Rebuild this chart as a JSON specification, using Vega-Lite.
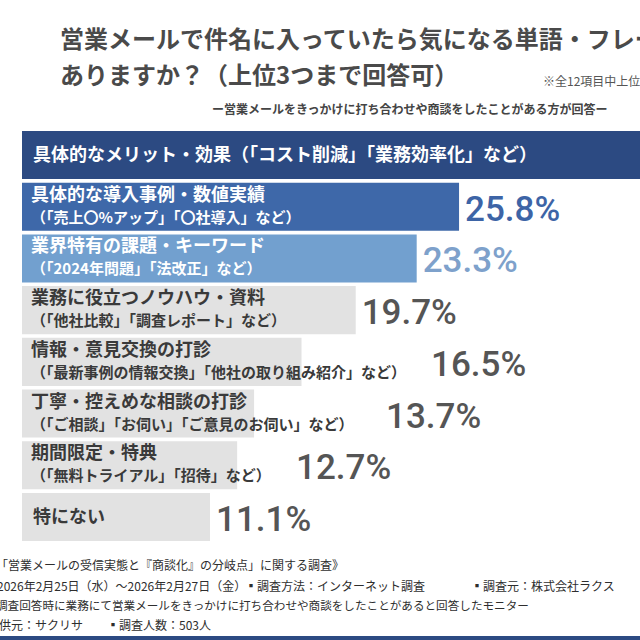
{
  "$schema": "https://vega.github.io/schema/vega-lite/v6.json",
  "width": 640,
  "height": 640,
  "autosize": {"type": "none"},
  "padding": 0,
  "background": "white",
  "config": {"view": {"stroke": null}, "font": "Noto Sans CJK JP"},
  "datasets": {
    "answers": [
      {"rank": 1, "item": "具体的なメリット・効果（「コスト削減」「業務効率化」など）", "sub": "", "value": 40.8},
      {"rank": 2, "item": "具体的な導入事例・数値実績", "sub": "（「売上〇%アップ」「〇社導入」など）", "value": 25.8},
      {"rank": 3, "item": "業界特有の課題・キーワード", "sub": "（「2024年問題」「法改正」など）", "value": 23.3},
      {"rank": 4, "item": "業務に役立つノウハウ・資料", "sub": "（「他社比較」「調査レポート」など）", "value": 19.7},
      {"rank": 5, "item": "情報・意見交換の打診", "sub": "（「最新事例の情報交換」「他社の取り組み紹介」など）", "value": 16.5},
      {"rank": 6, "item": "丁寧・控えめな相談の打診", "sub": "（「ご相談」「お伺い」「ご意見のお伺い」など）", "value": 13.7},
      {"rank": 7, "item": "期間限定・特典", "sub": "（「無料トライアル」「招待」など）", "value": 12.7},
      {"rank": 8, "item": "特にない", "sub": "", "value": 11.1}
    ]
  },
  "data": {"name": "answers"},
  "encoding": {
    "y": {
      "field": "rank",
      "type": "ordinal",
      "axis": null,
      "scale": {"type": "band", "domain": [1, 2, 3, 4, 5, 6, 7, 8], "range": [131, 541], "paddingInner": 0.07, "paddingOuter": 0}
    }
  },
  "layer": [
    {
      "mark": {"type": "bar", "clip": true},
      "encoding": {
        "x": {"field": "value", "type": "quantitative", "axis": null,
              "scale": {"domain": [0, 36.5], "range": [22, 640.3], "nice": false, "zero": true}},
        "color": {
          "field": "rank", "type": "ordinal", "legend": null,
          "scale": {"domain": [1, 2, 3, 4, 5, 6, 7, 8],
                    "range": ["#2c4a82", "#3e68a9", "#72a0cf", "#e2e2e2", "#e2e2e2", "#e2e2e2", "#e2e2e2", "#e2e2e2"]}
        }
      }
    },
    {
      "transform": [{"filter": "datum.sub != ''"}],
      "mark": {"type": "text", "align": "left", "baseline": "middle", "dx": 9, "dy": -11, "fontSize": 18, "fontWeight": "bold"},
      "encoding": {
        "x": {"datum": 0, "type": "quantitative"},
        "text": {"field": "item"},
        "color": {"condition": {"test": "datum.rank <= 3", "value": "#ffffff"}, "value": "#3a3a3a"}
      }
    },
    {
      "transform": [{"filter": "datum.sub == ''"}],
      "mark": {"type": "text", "align": "left", "baseline": "middle", "dx": 11, "dy": 1, "fontSize": 18, "fontWeight": "bold"},
      "encoding": {
        "x": {"datum": 0, "type": "quantitative"},
        "text": {"field": "item"},
        "color": {"condition": {"test": "datum.rank <= 3", "value": "#ffffff"}, "value": "#3a3a3a"}
      }
    },
    {
      "transform": [{"filter": "datum.sub != ''"}],
      "mark": {"type": "text", "align": "left", "baseline": "middle", "dx": 9, "dy": 11, "fontSize": 15, "fontWeight": "bold"},
      "encoding": {
        "x": {"datum": 0, "type": "quantitative"},
        "text": {"field": "sub"},
        "color": {"condition": {"test": "datum.rank <= 3", "value": "#ffffff"}, "value": "#3a3a3a"}
      }
    },
    {
      "transform": [
        {"calculate": "max(datum.value, 0.77 + 0.8855 * length(datum.sub))", "as": "labelAt"},
        {"calculate": "format(datum.value, '.1f') + '%'", "as": "label"}
      ],
      "mark": {"type": "text", "align": "left", "baseline": "alphabetic", "dx": 6, "dy": 14, "fontSize": 35, "fontWeight": 500, "font": "Roboto"},
      "encoding": {
        "x": {"field": "labelAt", "type": "quantitative"},
        "text": {"field": "label"},
        "color": {
          "condition": [
            {"test": "datum.rank == 2", "value": "#3d64a6"},
            {"test": "datum.rank == 3", "value": "#7ea1cb"}
          ],
          "value": "#555555"
        }
      }
    },
    {
      "data": {"values": [{"t": "営業メールで件名に入っていたら気になる単語・フレーズは"}]},
      "mark": {"type": "text", "align": "left", "baseline": "middle", "fontSize": 24, "fontWeight": "bold", "color": "#4a4a4a"},
      "encoding": {"text": {"field": "t"}, "x": {"value": 60}, "y": {"value": 41}}
    },
    {
      "data": {"values": [{"t": "ありますか？（上位3つまで回答可）"}]},
      "mark": {"type": "text", "align": "left", "baseline": "middle", "fontSize": 24, "fontWeight": "bold", "color": "#4a4a4a"},
      "encoding": {"text": {"field": "t"}, "x": {"value": 60}, "y": {"value": 77}}
    },
    {
      "data": {"values": [{"t": "※全12項目中上位7項目を抜粋"}]},
      "mark": {"type": "text", "align": "left", "baseline": "middle", "fontSize": 12, "color": "#555555"},
      "encoding": {"text": {"field": "t"}, "x": {"value": 543}, "y": {"value": 82}}
    },
    {
      "data": {"values": [{"t": "ー営業メールをきっかけに打ち合わせや商談をしたことがある方が回答ー"}]},
      "mark": {"type": "text", "align": "left", "baseline": "middle", "fontSize": 12, "fontWeight": "bold", "color": "#444444"},
      "encoding": {"text": {"field": "t"}, "x": {"value": 212}, "y": {"value": 110}}
    },
    {
      "data": {"values": [{"t": "「営業メールの受信実態と『商談化』の分岐点」に関する調査》"}]},
      "mark": {"type": "text", "align": "left", "baseline": "middle", "fontSize": 12, "color": "#2e2e2e"},
      "encoding": {"text": {"field": "t"}, "x": {"value": -4}, "y": {"value": 566}}
    },
    {
      "data": {"values": [{"t": "2026年2月25日（水）～2026年2月27日（金）"}]},
      "mark": {"type": "text", "align": "left", "baseline": "middle", "fontSize": 12, "color": "#2e2e2e"},
      "encoding": {"text": {"field": "t"}, "x": {"value": -3}, "y": {"value": 587}}
    },
    {
      "data": {"values": [{"t": "▪調査方法：インターネット調査"}]},
      "mark": {"type": "text", "align": "left", "baseline": "middle", "fontSize": 12, "color": "#2e2e2e"},
      "encoding": {"text": {"field": "t"}, "x": {"value": 245}, "y": {"value": 587}}
    },
    {
      "data": {"values": [{"t": "▪調査元：株式会社ラクス"}]},
      "mark": {"type": "text", "align": "left", "baseline": "middle", "fontSize": 12, "color": "#2e2e2e"},
      "encoding": {"text": {"field": "t"}, "x": {"value": 471}, "y": {"value": 587}}
    },
    {
      "data": {"values": [{"t": "調査回答時に業務にて営業メールをきっかけに打ち合わせや商談をしたことがあると回答したモニター"}]},
      "mark": {"type": "text", "align": "left", "baseline": "middle", "fontSize": 11.6, "color": "#2e2e2e"},
      "encoding": {"text": {"field": "t"}, "x": {"value": -4}, "y": {"value": 607}}
    },
    {
      "data": {"values": [{"t": "提供元：サクリサ"}]},
      "mark": {"type": "text", "align": "left", "baseline": "middle", "fontSize": 12, "color": "#2e2e2e"},
      "encoding": {"text": {"field": "t"}, "x": {"value": -13}, "y": {"value": 626}}
    },
    {
      "data": {"values": [{"t": "▪調査人数：503人"}]},
      "mark": {"type": "text", "align": "left", "baseline": "middle", "fontSize": 12, "color": "#2e2e2e"},
      "encoding": {"text": {"field": "t"}, "x": {"value": 107}, "y": {"value": 626}}
    },
    {
      "data": {"values": [{"edge": "top"}, {"edge": "bottom"}]},
      "mark": {"type": "rect", "color": "#2c4a82"},
      "encoding": {
        "x": {"value": 0},
        "x2": {"value": 640},
        "y": {"condition": {"test": "datum.edge == 'top'", "value": 0}, "value": 636},
        "y2": {"condition": {"test": "datum.edge == 'top'", "value": 4}, "value": 640}
      }
    }
  ]
}
